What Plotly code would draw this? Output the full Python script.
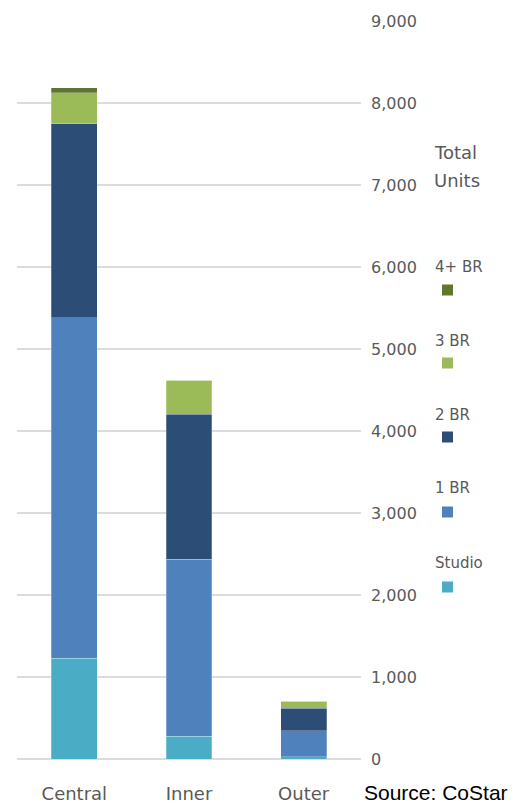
import plotly.graph_objects as go

# Units by submarket and bedroom type
submarkets = ["Central", "Inner", "Outer"]
unit_types = ["Studio", "1 BR", "2 BR", "3 BR", "4+ BR"]
studio = [1228, 280, 28]
one_br = [4154, 2155, 317]
two_br = [2362, 1769, 273]
three_br = [382, 418, 86]
four_br = [60, 0, 0]
series = [studio, one_br, two_br, three_br, four_br]
colors = ["#4BACC6", "#4F81BD", "#2C4D75", "#9BBB59", "#5F7530"]
y_ticks = [0, 1000, 2000, 3000, 4000, 5000, 6000, 7000, 8000, 9000]

W, H = 516, 805
L, R, T, B = 17, 155, 21, 46
PW, PH = W - L - R, H - T - B

fig = go.Figure()
for name, vals, col in zip(unit_types, series, colors):
    fig.add_trace(go.Bar(
        x=submarkets, y=vals, name=name,
        marker=dict(color=col, line=dict(color="rgba(255,255,255,0.5)", width=0.5)),
        showlegend=False,
    ))

def px_x(px):
    return (px - L) / PW

def px_y(py):
    return (H - B - py) / PH

text_color = "#595959"
font_main = "DejaVu Sans"

annotations = []
shapes = []
# Legend title, one annotation per line
for word, wy in zip(["Total", "Units"], [152, 180]):
    annotations.append(dict(
        x=px_x(432), y=px_y(wy), xref="paper", yref="paper",
        text=word, showarrow=False, xanchor="left", yanchor="middle",
        font=dict(family=font_main, size=18, color=text_color),
    ))
# Legend entries, top to bottom: label with a swatch beneath
label_y = [267, 341, 415, 488, 563]
swatch_y = [290, 363, 437, 512, 587]
for name, col, ly, sy in zip(unit_types[::-1], colors[::-1], label_y, swatch_y):
    annotations.append(dict(
        x=px_x(433), y=px_y(ly), xref="paper", yref="paper",
        text=name, showarrow=False, xanchor="left", yanchor="middle",
        font=dict(family=font_main, size=15, color=text_color),
    ))
    shapes.append(dict(
        type="rect", xref="paper", yref="paper",
        x0=px_x(442), x1=px_x(453), y0=px_y(sy + 5.5), y1=px_y(sy - 5.5),
        fillcolor=col, line=dict(width=0),
    ))

# Source note
annotations.append(dict(
    x=px_x(362), y=px_y(793), xref="paper", yref="paper",
    text="Source: CoStar", showarrow=False, xanchor="left", yanchor="middle",
    font=dict(family="Liberation Sans", size=21, color="#000000"),
))

fig.update_layout(
    width=W, height=H,
    margin=dict(l=L, r=R, t=T, b=B, pad=0),
    barmode="stack", bargap=0.6,
    plot_bgcolor="white", paper_bgcolor="white",
    annotations=annotations, shapes=shapes,
    xaxis=dict(
        showgrid=False, showline=False, zeroline=False, ticks="",
        tickfont=dict(family=font_main, size=18, color=text_color),
        ticklabelstandoff=22, automargin=False,
    ),
    yaxis=dict(
        side="right", range=[0, 9000], tickvals=y_ticks, tickformat=",",
        showgrid=True, gridcolor="#DCDCDC", gridwidth=1.5,
        zeroline=True, zerolinecolor="#DCDCDC", zerolinewidth=1.5,
        showline=False, ticks="",
        tickfont=dict(family=font_main, size=16, color=text_color),
        ticklabelstandoff=9, automargin=False,
    ),
)

fig.write_html("out.html")
